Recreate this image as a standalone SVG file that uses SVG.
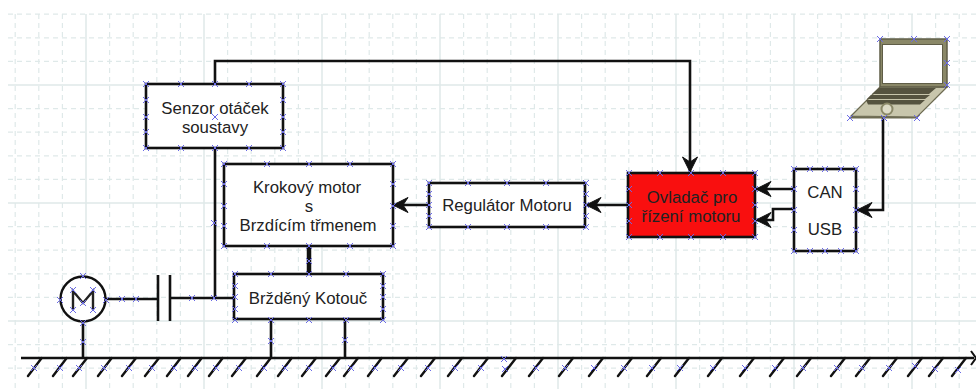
<svg xmlns="http://www.w3.org/2000/svg" width="976" height="389" viewBox="0 0 976 389">
<style>
.gd{stroke:#dfe9e9;stroke-width:1.2;stroke-dasharray:5 4;fill:none}
.gs{stroke:#dfe9e9;stroke-width:1.5;fill:none}
.box{fill:#fff;stroke:#111;stroke-width:2.6}
.c{fill:none;stroke:#111;stroke-width:2.6}
.h{fill:none;stroke:#111;stroke-width:2.4;stroke-linecap:round}
.t{font-family:"Liberation Sans",Arial,sans-serif;font-size:16.8px;fill:#222;text-anchor:middle}
.m{stroke:#6a6ae6;stroke-width:1;fill:none}
</style>
<defs>
<path id="x" class="m" d="M-3 -3L3 3M3 -3L-3 3"/>
<marker id="a" markerUnits="userSpaceOnUse" markerWidth="20" markerHeight="20" refX="17" refY="10" orient="auto" overflow="visible">
<path d="M17 10L2 2.500L7 10L2 17.500Z" fill="#111" stroke="#111" stroke-width="1"/>
</marker>
</defs>
<rect width="976" height="389" fill="#fff"/>
<g id="grid">
<path class="gd" d="M15.2 14V389M38.8 14V389M62.4 14V389M109.6 14V389M133.2 14V389M156.8 14V389M180.4 14V389M227.6 14V389M251.2 14V389M274.8 14V389M298.4 14V389M345.6 14V389M369.2 14V389M392.8 14V389M416.4 14V389M463.6 14V389M487.2 14V389M510.8 14V389M534.4 14V389M581.6 14V389M605.2 14V389M628.8 14V389M652.4 14V389M699.6 14V389M723.2 14V389M746.8 14V389M770.4 14V389M817.6 14V389M841.2 14V389M864.8 14V389M888.4 14V389M935.6 14V389M959.2 14V389"/>
<path class="gd" d="M8 14.2H976M8 37.8H976M8 61.4H976M8 108.6H976M8 132.2H976M8 155.8H976M8 179.4H976M8 226.6H976M8 250.2H976M8 273.8H976M8 297.4H976M8 344.6H976M8 368.2H976"/>
<path class="gs" d="M86 14V389M204 14V389M322 14V389M440 14V389M558 14V389M676 14V389M794 14V389M912 14V389"/>
<path class="gs" d="M8 85H976M8 203H976M8 321H976"/>
</g>
<g id="connectors">
<path class="c" d="M215 84V61H690V172" marker-end="url(#a)"/>
<path class="c" d="M215 148V297"/>
<path class="c" d="M309 246V274" style="stroke-width:4.5"/>
<path class="c" d="M429 205H393" marker-end="url(#a)"/>
<path class="c" d="M628 205H586" marker-end="url(#a)"/>
<path class="c" d="M794 189H756" marker-end="url(#a)"/>
<path class="c" d="M794 209H773V220H756" marker-end="url(#a)"/>
<path class="c" d="M883 118V210H857" marker-end="url(#a)"/>
<path class="c" d="M105 299H157M170 298H234"/>
<path class="c" d="M158 275V321M170 275V321"/>
<path class="c" d="M83 322V358M271 319V358M345 319V358"/>
</g>
<g id="ground">
<path class="c" d="M21 358H974"/>
<path class="c" d="M971 351L976 358L971 365" style="stroke-width:2"/>
<path class="h" d="M41.7 358L28 376M66.7 358L53 376M87 358L73 376M111.7 358L98 376M136 358L122 376M159 358L145 376M180.7 358L167 376M201.7 358L188 376M222.7 358L209 376M246 358L232 376M270.7 358L257 376M291.7 358L278 376M316 358L302 376M340 358L326 376M358 358L344 376M381.7 358L368 376M408 358L394 376M435 358L421 376M462 358L448 376M488 358L474 376M516 358L502 376M543 358L529 376M573 358L559 376M603 358L589 376M632 358L618 376M661 358L647 376M689 358L675 376M722 358L708 376M754 358L740 376M784 358L770 376M811 358L797 376M845 358L831 376M870 358L856 376M897 358L883 376M922 358L908 376M943 358L929 376M966 358L952 376"/>
<g>
<use href="#x" x="34" y="368"/><use href="#x" x="60" y="368"/><use href="#x" x="79" y="368"/><use href="#x" x="104" y="368"/><use href="#x" x="129" y="368"/><use href="#x" x="152" y="368"/><use href="#x" x="174" y="368"/><use href="#x" x="195" y="368"/><use href="#x" x="216" y="368"/><use href="#x" x="239" y="368"/><use href="#x" x="264" y="368"/><use href="#x" x="285" y="368"/><use href="#x" x="309" y="368"/><use href="#x" x="333" y="368"/><use href="#x" x="351" y="368"/><use href="#x" x="375" y="368"/><use href="#x" x="401" y="368"/><use href="#x" x="428" y="368"/><use href="#x" x="455" y="368"/><use href="#x" x="481" y="368"/><use href="#x" x="505" y="369"/><use href="#x" x="504" y="359"/><use href="#x" x="536" y="368"/><use href="#x" x="565" y="368"/><use href="#x" x="594" y="368"/><use href="#x" x="624" y="368"/><use href="#x" x="652" y="368"/><use href="#x" x="680" y="368"/><use href="#x" x="713" y="368"/><use href="#x" x="745" y="368"/><use href="#x" x="775" y="368"/><use href="#x" x="803" y="368"/><use href="#x" x="837" y="368"/><use href="#x" x="862" y="368"/><use href="#x" x="889" y="368"/><use href="#x" x="915" y="366"/><use href="#x" x="935" y="369"/><use href="#x" x="958" y="370"/>
</g>
</g>
<g id="wire-marks">
<use href="#x" x="83" y="342"/><use href="#x" x="122" y="299"/><use href="#x" x="136" y="299"/><use href="#x" x="192" y="298"/><use href="#x" x="214" y="298"/><use href="#x" x="271" y="341"/><use href="#x" x="345" y="340"/><use href="#x" x="309" y="261"/><use href="#x" x="214" y="223"/>
</g>
<g id="motor">
<circle cx="83" cy="299" r="22.5" fill="#fff" stroke="#111" stroke-width="2.4"/>
<path d="M73 310V291L83 303L93 291V310" fill="none" stroke="#222" stroke-width="2.4"/>
<use href="#x" x="83" y="276"/><use href="#x" x="60" y="300"/><use href="#x" x="106" y="300"/><use href="#x" x="83" y="323"/><use href="#x" x="73" y="290"/><use href="#x" x="93" y="290"/><use href="#x" x="73" y="310"/><use href="#x" x="93" y="310"/><use href="#x" x="83" y="303"/>
</g>
<g id="sensor">
<rect class="box" x="146" y="84" width="137" height="64"/>
<text class="t" x="215" y="114">Senzor otáček</text>
<text class="t" x="215" y="133">soustavy</text>
<use href="#x" x="146" y="84"/><use href="#x" x="181" y="84"/><use href="#x" x="215" y="84"/><use href="#x" x="249" y="84"/><use href="#x" x="283" y="84"/><use href="#x" x="146" y="100"/><use href="#x" x="283" y="100"/><use href="#x" x="146" y="117"/><use href="#x" x="215" y="117"/><use href="#x" x="283" y="117"/><use href="#x" x="146" y="132"/><use href="#x" x="283" y="132"/><use href="#x" x="146" y="148"/><use href="#x" x="181" y="148"/><use href="#x" x="215" y="148"/><use href="#x" x="249" y="148"/><use href="#x" x="283" y="148"/>
</g>
<g id="stepper">
<rect class="box" x="224" y="164" width="169" height="82"/>
<text class="t" x="307" y="193">Krokový motor</text>
<text class="t" x="309" y="212">s</text>
<text class="t" x="308" y="231">Brzdícím třmenem</text>
<use href="#x" x="224" y="164"/><use href="#x" x="267" y="164"/><use href="#x" x="309" y="164"/><use href="#x" x="350" y="164"/><use href="#x" x="393" y="164"/><use href="#x" x="224" y="184"/><use href="#x" x="393" y="184"/><use href="#x" x="224" y="206"/><use href="#x" x="393" y="206"/><use href="#x" x="224" y="226"/><use href="#x" x="393" y="226"/><use href="#x" x="224" y="246"/><use href="#x" x="267" y="246"/><use href="#x" x="309" y="246"/><use href="#x" x="350" y="246"/><use href="#x" x="393" y="246"/>
</g>
<g id="disc">
<rect class="box" x="234" y="274" width="149" height="45"/>
<text class="t" x="308" y="304">Bržděný Kotouč</text>
<use href="#x" x="235" y="274"/><use href="#x" x="271" y="274"/><use href="#x" x="309" y="274"/><use href="#x" x="346" y="274"/><use href="#x" x="383" y="274"/><use href="#x" x="235" y="286"/><use href="#x" x="383" y="286"/><use href="#x" x="235" y="297"/><use href="#x" x="383" y="297"/><use href="#x" x="235" y="309"/><use href="#x" x="383" y="309"/><use href="#x" x="235" y="320"/><use href="#x" x="271" y="320"/><use href="#x" x="309" y="320"/><use href="#x" x="346" y="320"/><use href="#x" x="383" y="320"/>
</g>
<g id="regulator">
<rect class="box" x="429" y="183" width="156" height="44"/>
<text class="t" x="507" y="211">Regulátor Motoru</text>
<use href="#x" x="429" y="183"/><use href="#x" x="468" y="183"/><use href="#x" x="507" y="183"/><use href="#x" x="546" y="183"/><use href="#x" x="586" y="183"/><use href="#x" x="429" y="194"/><use href="#x" x="586" y="194"/><use href="#x" x="429" y="205"/><use href="#x" x="586" y="205"/><use href="#x" x="429" y="216"/><use href="#x" x="586" y="216"/><use href="#x" x="429" y="227"/><use href="#x" x="468" y="227"/><use href="#x" x="507" y="227"/><use href="#x" x="546" y="227"/><use href="#x" x="586" y="227"/>
</g>
<g id="controller">
<rect class="box" x="628" y="173" width="127" height="64" style="fill:#f90f0f"/>
<text class="t" x="692" y="203">Ovladač pro</text>
<text class="t" x="691" y="222">řízení motoru</text>
<use href="#x" x="629" y="173"/><use href="#x" x="660" y="173"/><use href="#x" x="691" y="173"/><use href="#x" x="723" y="173"/><use href="#x" x="755" y="173"/><use href="#x" x="629" y="189"/><use href="#x" x="755" y="189"/><use href="#x" x="629" y="205"/><use href="#x" x="755" y="205"/><use href="#x" x="629" y="221"/><use href="#x" x="755" y="221"/><use href="#x" x="629" y="237"/><use href="#x" x="660" y="237"/><use href="#x" x="691" y="237"/><use href="#x" x="723" y="237"/><use href="#x" x="755" y="237"/>
</g>
<g id="can-usb">
<rect class="box" x="794" y="169" width="62" height="82"/>
<text class="t" x="825" y="198">CAN</text>
<text class="t" x="825" y="235">USB</text>
<use href="#x" x="794" y="169"/><use href="#x" x="810" y="169"/><use href="#x" x="825" y="169"/><use href="#x" x="841" y="169"/><use href="#x" x="856" y="169"/><use href="#x" x="794" y="189"/><use href="#x" x="856" y="189"/><use href="#x" x="794" y="210"/><use href="#x" x="856" y="210"/><use href="#x" x="794" y="230"/><use href="#x" x="856" y="230"/><use href="#x" x="794" y="251"/><use href="#x" x="810" y="251"/><use href="#x" x="825" y="251"/><use href="#x" x="841" y="251"/><use href="#x" x="856" y="251"/>
</g>
<g id="laptop">
<path d="M880 87L851 116L917 117L947 87Z" fill="#c8c6ac" stroke="#6d6b52" stroke-width="1.2"/>
<path d="M851 116L917 117V118.500H851Z" fill="#6d6b52"/>
<rect x="880" y="39" width="67" height="48" fill="#8a8868" stroke="#5f5d47" stroke-width="1.5"/>
<rect x="882" y="44" width="61" height="40" fill="#5f5d47"/>
<rect x="883" y="45" width="59" height="38" fill="#fff"/>
<path d="M879 88H936L929 94H872ZM871 95H930L925 99H867ZM866 100H925L920 104.500H868Z" fill="#55533f"/>
<circle cx="887" cy="109" r="5.500" fill="#dedcc8" stroke="#8a8868" stroke-width="2"/>
<use href="#x" x="880" y="39"/><use href="#x" x="914" y="39"/><use href="#x" x="947" y="39"/><use href="#x" x="947" y="63"/><use href="#x" x="947" y="85"/><use href="#x" x="850" y="118"/><use href="#x" x="884" y="118"/><use href="#x" x="917" y="118"/>
</g>
</svg>
